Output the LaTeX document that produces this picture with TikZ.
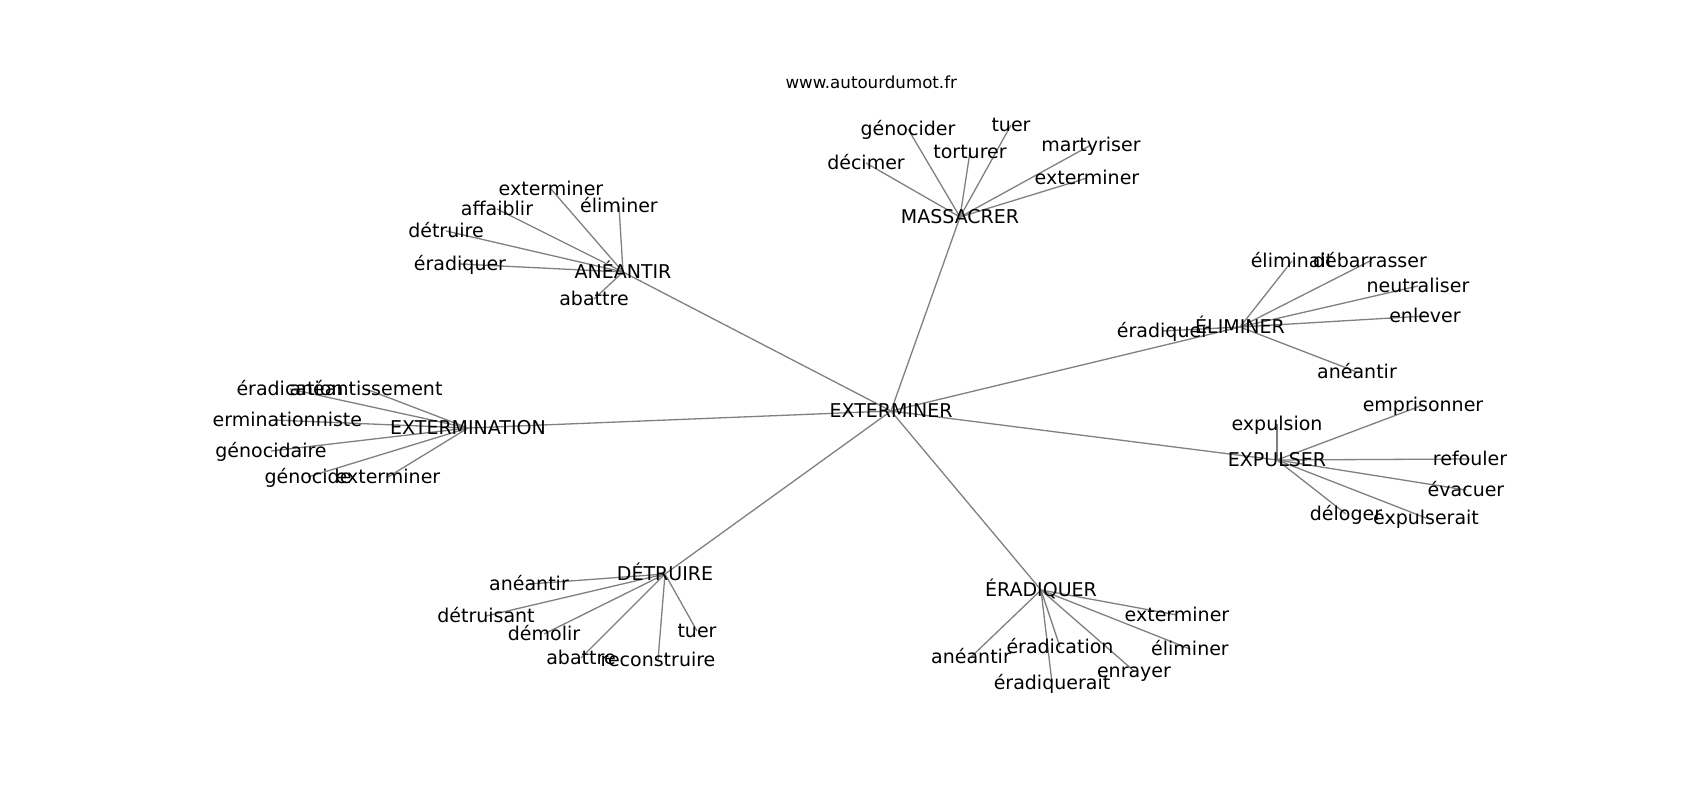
\documentclass[tikz,border=0pt]{standalone}
\usepackage{fontspec}
\setmainfont{DejaVu Sans}
\pgfdeclarelayer{bg}
\pgfsetlayers{bg,main}
\tikzset{
  lbl/.style={font=\fontsize{19}{19}\selectfont, anchor=base, yshift=-6pt, inner sep=0pt, text=black},
  ttl/.style={font=\fontsize{16.67}{16.67}\selectfont, anchor=base, inner sep=0pt, text=black},
  edge/.style={draw=black!50, line width=1.3pt}
}
\newcommand\wn[4]{\coordinate (#1) at (#2,#3); \node[lbl] (#1-l) at (#1) {#4};}
\begin{document}
\begin{tikzpicture}[x=1pt,y=-1pt]
\useasboundingbox (0,0) rectangle (1700,800);
\node[ttl] (title) at (871.25,88.3) {www.autourdumot.fr};
% hubs
\wn{ext}{891}{411}{EXTERMINER}
\wn{mas}{960}{217}{MASSACRER}
\wn{ane}{623}{272}{ANÉANTIR}
\wn{etn}{468}{428}{EXTERMINATION}
\wn{eli}{1240}{327}{ÉLIMINER}
\wn{exp}{1277}{460}{EXPULSER}
\wn{det}{665}{574}{DÉTRUIRE}
\wn{era}{1041}{590}{ÉRADIQUER}
% MASSACRER
\wn{m1}{866}{163}{décimer}
\wn{m2}{908}{129}{génocider}
\wn{m3}{970}{152}{torturer}
\wn{m4}{1011}{125}{tuer}
\wn{m5}{1091}{145}{martyriser}
\wn{m6}{1087}{178}{exterminer}
% ANEANTIR
\wn{a1}{551}{189}{exterminer}
\wn{a2}{619}{206}{éliminer}
\wn{a3}{497}{209}{affaiblir}
\wn{a4}{446}{231}{détruire}
\wn{a5}{460}{264}{éradiquer}
\wn{a6}{594}{299}{abattre}
% EXTERMINATION
\wn{t1}{290}{389}{éradication}
\wn{t2}{366}{389}{anéantissement}
\coordinate (t3) at (274,420);
\node[lbl, anchor=base west] (t3-l) at (212.5,420) {erminationniste};
\wn{t4}{271}{451}{génocidaire}
\wn{t5}{308}{477}{génocide}
\wn{t6}{388}{477}{exterminer}
% ELIMINER
\wn{e1}{1292}{261}{éliminait}
\wn{e2}{1370}{261}{débarrasser}
\wn{e3}{1418}{286}{neutraliser}
\wn{e4}{1425}{316}{enlever}
\wn{e5}{1357}{372}{anéantir}
\wn{e6}{1163}{331}{éradiquer}
% EXPULSER
\wn{x1}{1423}{405}{emprisonner}
\wn{x2}{1277}{424}{expulsion}
\wn{x3}{1470}{459}{refouler}
\wn{x4}{1466}{490}{évacuer}
\wn{x5}{1346}{514}{déloger}
\wn{x6}{1426}{518}{expulserait}
% DETRUIRE
\wn{d1}{529}{584}{anéantir}
\wn{d2}{486}{616}{détruisant}
\wn{d3}{544}{634}{démolir}
\wn{d4}{581}{658}{abattre}
\wn{d5}{658}{660}{reconstruire}
\wn{d6}{697}{631}{tuer}
% ERADIQUER
\wn{r1}{1177}{615}{exterminer}
\wn{r2}{1190}{649}{éliminer}
\wn{r3}{971}{657}{anéantir}
\wn{r4}{1060}{647}{éradication}
\wn{r5}{1134}{671}{enrayer}
\wn{r6}{1052}{683}{éradiquerait}
\begin{pgfonlayer}{bg}
\fill[white] (0,0) rectangle (1700,800);
\foreach \h in {mas,ane,etn,eli,exp,det,era} \draw[edge] (ext) -- (\h);
\foreach \l in {m1,m2,m3,m4,m5,m6} \draw[edge] (mas) -- (\l);
\foreach \l in {a1,a2,a3,a4,a5,a6} \draw[edge] (ane) -- (\l);
\foreach \l in {t1,t2,t3,t4,t5,t6} \draw[edge] (etn) -- (\l);
\foreach \l in {e1,e2,e3,e4,e5,e6} \draw[edge] (eli) -- (\l);
\foreach \l in {x1,x2,x3,x4,x5,x6} \draw[edge] (exp) -- (\l);
\foreach \l in {d1,d2,d3,d4,d5,d6} \draw[edge] (det) -- (\l);
\foreach \l in {r1,r2,r3,r4,r5,r6} \draw[edge] (era) -- (\l);
\end{pgfonlayer}
\end{tikzpicture}
\end{document}
